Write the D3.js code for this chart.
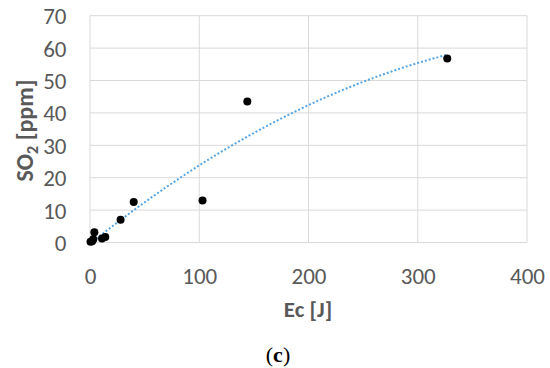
<!DOCTYPE html>
<html><head><meta charset="utf-8">
<script src="https://cdn.jsdelivr.net/npm/d3@7"></script>
<style>body{margin:0;background:#fff}svg{display:block}</style>
</head><body>
<svg id="c" width="550" height="368"></svg>
<script>
const ecValues = [0.5, 2, 3, 4, 11, 14, 28, 40, 103, 144, 327];
const so2Values = [0.2, 0.4, 1.0, 3.2, 1.2, 1.7, 7.0, 12.5, 13.0, 43.5, 56.8];
const xTicks = [0, 100, 200, 300, 400];
const yTicks = [0, 10, 20, 30, 40, 50, 60, 70];
const trendCoef = [-0.4, 0.27, -0.00028]; // c0 + c1 x + c2 x^2
const trendRange = [0, 327];

const svg = d3.select("#c");
const x = d3.scaleLinear().domain([0, 400]).range([90, 527]);
const y = d3.scaleLinear().domain([0, 70]).range([242.5, 15.7]);
const font = "Carlito, 'Open Sans', sans-serif";

// grid
svg.append("g").selectAll("line").data(yTicks).join("line")
  .attr("x1", x(0)).attr("x2", x(400)).attr("y1", d => y(d)).attr("y2", d => y(d))
  .attr("stroke", "#d9d9d9").attr("stroke-width", 1);
svg.append("g").selectAll("line").data(xTicks).join("line")
  .attr("y1", y(0)).attr("y2", y(70)).attr("x1", d => x(d)).attr("x2", d => x(d))
  .attr("stroke", "#d9d9d9").attr("stroke-width", 1);

// axes labels via d3 axes
const xAxis = svg.append("g").attr("transform", `translate(0,${y(0)})`)
  .call(d3.axisBottom(x).tickValues(xTicks).tickSize(0).tickPadding(0));
const yAxis = svg.append("g").attr("transform", `translate(${x(0)},0)`)
  .call(d3.axisLeft(y).tickValues(yTicks).tickSize(0).tickPadding(23.5));
[xAxis, yAxis].forEach(a => {
  a.select(".domain").remove();
  a.selectAll("text").attr("font-family", font).attr("font-size", 23).attr("fill", "#595959");
});
xAxis.selectAll("text").attr("dy", null).attr("y", 41);
yAxis.selectAll("text").attr("dy", "0.35em");

// trendline
const tx = d3.range(trendRange[0], trendRange[1] + 0.001, 2);
if (tx[tx.length - 1] < trendRange[1]) tx.push(trendRange[1]);
const line = d3.line().x(d => x(d)).y(d => y(trendCoef[0] + trendCoef[1] * d + trendCoef[2] * d * d));
svg.append("path").attr("d", line(tx)).attr("fill", "none")
  .attr("stroke", "#56a5e2").attr("stroke-width", 2).attr("stroke-dasharray", "2,2");

// points
svg.append("g").selectAll("circle").data(ecValues).join("circle")
  .attr("cx", d => x(d)).attr("cy", (d, i) => y(so2Values[i])).attr("r", 4).attr("fill", "#000");

// titles
svg.append("text").attr("x", 308).attr("y", 316.5).attr("text-anchor", "middle")
  .attr("font-family", font).attr("font-size", 23).attr("font-weight", "bold").attr("fill", "#595959")
  .text("Ec [J]");
const yt = svg.append("text").attr("transform", "translate(32.5,130.5) rotate(-90)").attr("text-anchor", "middle")
  .attr("font-family", font).attr("font-size", 24).attr("font-weight", "bold").attr("fill", "#595959");
yt.append("tspan").text("SO");
yt.append("tspan").attr("font-size", 16).attr("dy", 5).text("2");
yt.append("tspan").attr("dy", -5).text(" [ppm]");

const cap = svg.append("text").attr("x", 278).attr("y", 362).attr("text-anchor", "middle")
  .attr("font-family", "'Liberation Serif', serif").attr("font-size", 22).attr("fill", "#000");
cap.append("tspan").text("(");
cap.append("tspan").attr("font-weight", "bold").text("c");
cap.append("tspan").text(")");
</script>
</body></html>
